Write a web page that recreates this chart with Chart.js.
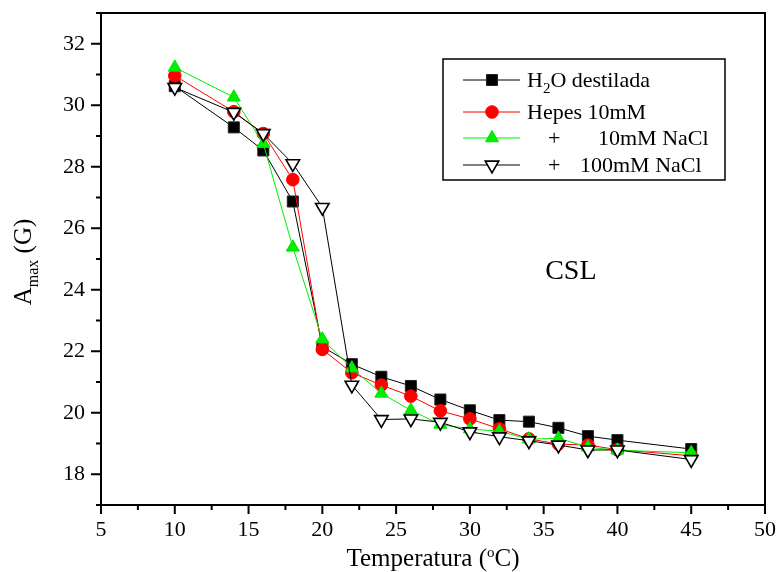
<!DOCTYPE html>
<html>
<head>
<meta charset="utf-8">
<script src="https://cdn.jsdelivr.net/npm/chart.js@4/dist/chart.umd.min.js"></script>
<style>
  html, body { margin: 0; padding: 0; background: #fff; }
  #wrap { width: 780px; height: 572px; }
</style>
</head>
<body>
<div id="wrap"><canvas id="c" width="780" height="572"></canvas></div>
<script>
// ---- data ----
const temps   = [10, 14, 16, 18, 20, 22, 24, 26, 28, 30, 32, 34, 36, 38, 40, 45];
const h2o     = [30.62, 29.28, 28.53, 26.87, 22.15, 21.58, 21.17, 20.87, 20.43, 20.08, 19.76, 19.71, 19.51, 19.24, 19.11, 18.82];
const hepes   = [30.96, 29.79, 29.08, 27.58, 22.06, 21.30, 20.90, 20.54, 20.06, 19.80, 19.48, 19.15, 18.98, 18.95, 18.80, 18.60];
const nacl10  = [31.23, 30.26, 28.75, 25.38, 22.39, 21.45, 20.63, 20.08, 19.62, 19.47, 19.40, 19.14, 19.17, 18.88, 18.78, 18.70];
const nacl100 = [30.58, 29.77, 29.08, 28.10, 26.68, 20.90, 19.78, 19.80, 19.69, 19.38, 19.22, 19.09, 18.95, 18.79, 18.79, 18.48];

const xTicks = [5, 10, 15, 20, 25, 30, 35, 40, 45, 50];
const yTicks = [18, 20, 22, 24, 26, 28, 30, 32];
const xTitle = ['Temperatura (', 'o', 'C)'];
const yTitle = ['A', 'max', ' (G)'];
const annotationText = 'CSL';
const annotationAt = [35.1, 24.35];
const legendLabels = [
  [['H', 'n'], ['2', 'sub'], ['O destilada', 'n']],
  [['Hepes 10mM', 'n']],
  [['+', 'n', 548], ['10mM NaCl', 'n', 598]],
  [['+', 'n', 548], ['100mM NaCl', 'n', 580]]
];

const SERIF = '"Liberation Serif", "Times New Roman", serif';

function pts(ys) { return temps.map((t, i) => ({ x: t, y: ys[i] })); }

const datasets = [
  { label: 'H2O destilada', data: pts(h2o), borderColor: '#000000', backgroundColor: '#000000',
    pointStyle: 'rect', pointRadius: 7.8, pointBorderWidth: 1, pointBorderColor: '#222', pointBackgroundColor: '#000', order: 4 },
  { label: 'Hepes 10mM', data: pts(hepes), borderColor: '#ff0000', backgroundColor: '#ff0000',
    pointStyle: 'circle', pointRadius: 6.3, pointBorderWidth: 1, pointBorderColor: '#ff0000', pointBackgroundColor: '#ff0000', order: 3 },
  { label: '+ 10mM NaCl', data: pts(nacl10), borderColor: '#00ee00', backgroundColor: '#00ee00',
    pointStyle: 'triangle', pointRadius: 7.5, pointBorderWidth: 1, pointBorderColor: '#00e000', pointBackgroundColor: '#00ee00', order: 2 },
  { label: '+ 100mM NaCl', data: pts(nacl100), borderColor: '#000000', backgroundColor: '#ffffff',
    pointStyle: 'triangle', pointRotation: 180, pointRadius: 7.8, pointBorderWidth: 1.6, pointBorderColor: '#000', pointBackgroundColor: '#ffffff', order: 1 }
];
datasets.forEach(d => { d.borderWidth = 1; d.tension = 0; d.fill = false; d.pointHoverRadius = d.pointRadius; });

function drawMarker(ctx, ds, x, y) {
  const o = { pointStyle: ds.pointStyle, rotation: ds.pointRotation || 0, radius: ds.pointRadius, borderWidth: ds.pointBorderWidth };
  ctx.save();
  ctx.fillStyle = ds.pointBackgroundColor;
  ctx.strokeStyle = ds.pointBorderColor;
  ctx.lineWidth = ds.pointBorderWidth;
  Chart.helpers.drawPoint(ctx, o, x, y);
  ctx.restore();
}

function drawRich(ctx, parts, x, y, size, subSize) {
  let cx = x;
  parts.forEach(p => {
    const kind = p[1];
    if (p[2] !== undefined) cx = p[2];
    if (kind === 'sub') {
      ctx.font = subSize + 'px ' + SERIF;
      ctx.fillText(p[0], cx, y + size * 0.28);
    } else if (kind === 'sup') {
      ctx.font = subSize + 'px ' + SERIF;
      ctx.fillText(p[0], cx, y - size * 0.38);
    } else {
      ctx.font = size + 'px ' + SERIF;
      ctx.fillText(p[0], cx, y);
    }
    cx += ctx.measureText(p[0]).width;
  });
  return cx - x;
}

function measureRich(ctx, parts, size, subSize) {
  let w = 0;
  parts.forEach(p => {
    ctx.font = (p[1] === 'n' ? size : subSize) + 'px ' + SERIF;
    w += ctx.measureText(p[0]).width;
  });
  return w;
}

const framePlugin = {
  id: 'frame',
  afterDraw(chart) {
    const ctx = chart.ctx;
    const a = chart.chartArea;
    const xs = chart.scales.x, ys = chart.scales.y;
    ctx.save();
    ctx.strokeStyle = '#000';
    ctx.lineWidth = 2;
    ctx.strokeRect(a.left, a.top, a.right - a.left, a.bottom - a.top);
    ctx.beginPath();
    ys.ticks.forEach(t => {
      const p = ys.getPixelForValue(t.value);
      const len = yTicks.includes(t.value) ? 10 : 5;
      ctx.moveTo(a.left - len, p); ctx.lineTo(a.left, p);
    });
    xs.ticks.forEach(t => {
      const p = xs.getPixelForValue(t.value);
      const len = xTicks.includes(t.value) ? 9 : 5;
      ctx.moveTo(p, a.bottom); ctx.lineTo(p, a.bottom + len);
    });
    ctx.stroke();

    ctx.fillStyle = '#000';
    ctx.textBaseline = 'alphabetic';
    ctx.textAlign = 'left';
    const xParts = [[xTitle[0], 'n'], [xTitle[1], 'sup'], [xTitle[2], 'n']];
    const xw = measureRich(ctx, xParts, 25, 15);
    drawRich(ctx, xParts, (a.left + a.right) / 2 - xw / 2, 566, 25, 15);

    const yParts = [[yTitle[0], 'n'], [yTitle[1], 'sub'], [yTitle[2], 'n']];
    const yw = measureRich(ctx, yParts, 25, 16);
    ctx.save();
    ctx.translate(31, (a.top + a.bottom) / 2 + 3);
    ctx.rotate(-Math.PI / 2);
    drawRich(ctx, yParts, -yw / 2, 0, 25, 16);
    ctx.restore();

    ctx.font = '28px ' + SERIF;
    ctx.fillText(annotationText, xs.getPixelForValue(annotationAt[0]), ys.getPixelForValue(annotationAt[1]));

    const L = a.left + 342, T = a.top + 46, R = a.left + 624, B = a.top + 167;
    ctx.lineWidth = 1.5;
    ctx.strokeRect(L, T, R - L, B - T);
    const rowY = [T + 21, T + 53, T + 79, T + 106];
    chart.data.datasets.forEach((ds, i) => {
      const y = rowY[i];
      ctx.beginPath();
      ctx.strokeStyle = ds.borderColor;
      ctx.lineWidth = 1;
      ctx.moveTo(L + 20, y); ctx.lineTo(L + 77, y);
      ctx.stroke();
      drawMarker(ctx, ds, L + 49, y);
      ctx.fillStyle = '#000';
      drawRich(ctx, legendLabels[i], L + 84, y + 7, 22, 15);
    });
    ctx.restore();
  }
};

new Chart(document.getElementById('c'), {
  type: 'line',
  data: { datasets },
  options: {
    responsive: false,
    animation: false,
    devicePixelRatio: 1,
    layout: { padding: { left: 0, right: 15, top: 13, bottom: 0 } },
    plugins: { legend: { display: false }, tooltip: { enabled: false } },
    scales: {
      x: {
        type: 'linear', min: 5, max: 50,
        afterFit(s) { s.height = 67; s.paddingLeft = 0; s.paddingRight = 0; },
        grid: { display: false, drawTicks: false, tickLength: 0 },
        border: { display: false },
        ticks: {
          stepSize: 2.5, autoSkip: false, maxRotation: 0, padding: 12,
          color: '#000', font: { family: SERIF, size: 22 },
          callback: v => (xTicks.includes(v) ? String(v) : '')
        }
      },
      y: {
        type: 'linear', min: 17, max: 33,
        afterFit(s) { s.width = 101; s.paddingTop = 0; s.paddingBottom = 0; },
        grid: { display: false, drawTicks: false, tickLength: 0 },
        border: { display: false },
        ticks: {
          stepSize: 1, autoSkip: false, padding: 16,
          color: '#000', font: { family: SERIF, size: 22 },
          callback: v => (yTicks.includes(v) ? String(v) : '')
        }
      }
    }
  },
  plugins: [framePlugin]
});
</script>
</body>
</html>
